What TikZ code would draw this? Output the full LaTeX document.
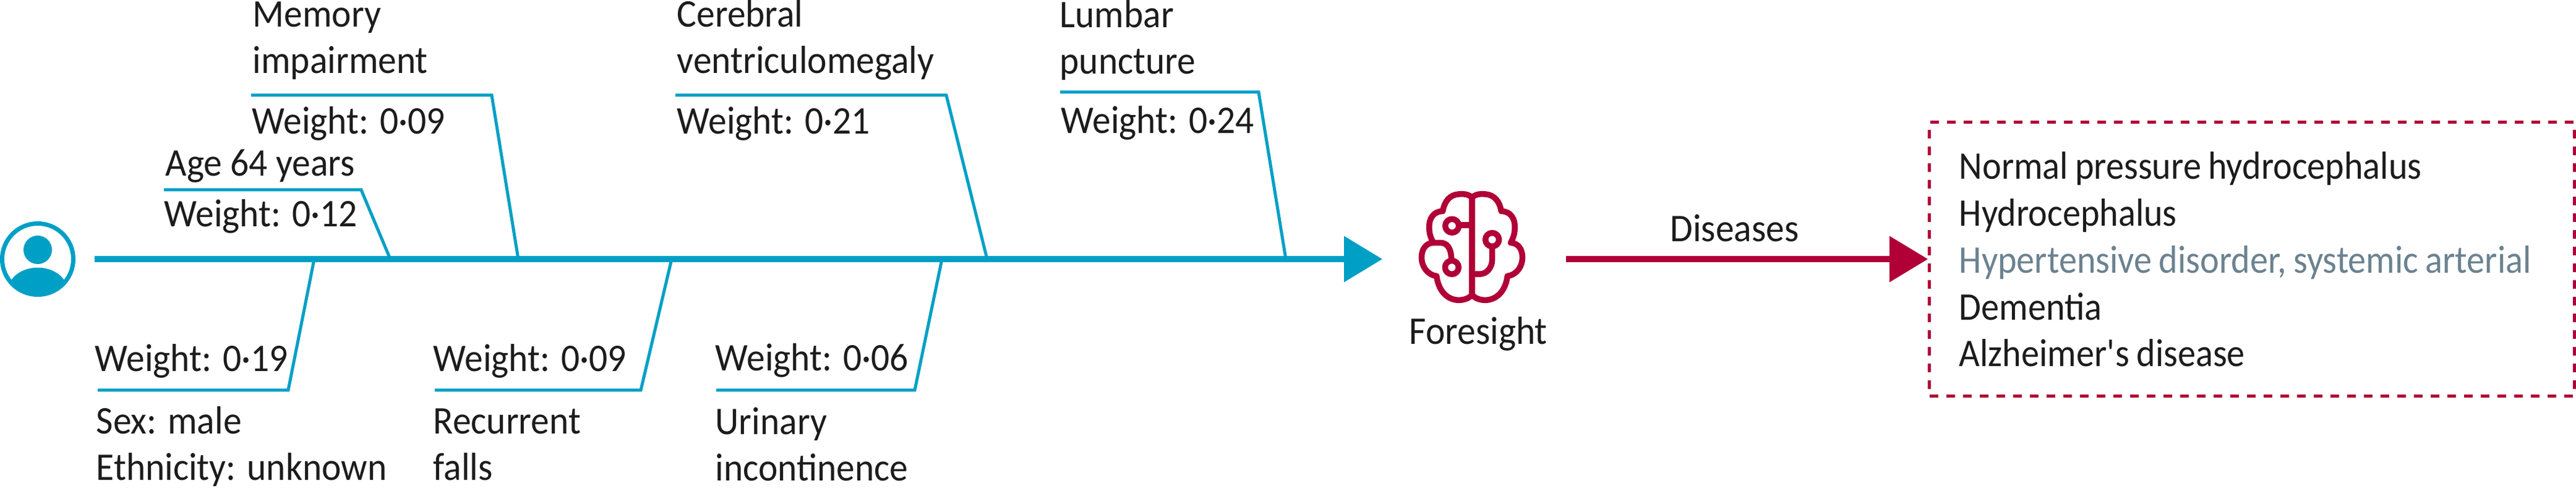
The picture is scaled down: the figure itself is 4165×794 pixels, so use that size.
\documentclass[tikz,border=0pt]{standalone}
\usepackage{fontspec}
\setmainfont[FakeStretch=0.94]{Carlito}
\newfontfamily\listfont[FakeStretch=0.92,WordSpace=0.85]{Carlito}
\usepackage{xcolor}
\usetikzlibrary{arrows.meta}
\definecolor{fishteal}{HTML}{00A0C6}
\definecolor{brainred}{HTML}{B00037}
\definecolor{inkblack}{HTML}{1C1C1C}
\definecolor{slategrey}{HTML}{6B8290}
\tikzset{
  txt/.style={anchor=base west, inner sep=0pt, align=left, text=inkblack,
    font=\fontsize{18pt}{21.4pt}\selectfont},
  listtxt/.style={txt, font=\listfont\fontsize{18pt}{21.6pt}\selectfont},
  branch/.style={draw=fishteal, line width=.05cm, line join=miter},
  spine/.style={draw=fishteal, line width=.1cm, -{Triangle[length=.62cm,width=.72cm]}},
  output/.style={draw=brainred, line width=.1cm, -{Triangle[length=.62cm,width=.72cm]}},
  brainline/.style={draw=brainred, line width=.095cm, line join=round, line cap=round},
}
\begin{document}
\begin{tikzpicture}[x=.01cm,y=.01cm]
\useasboundingbox (0,0) rectangle (4165,794);
\node [circle, draw=fishteal, line width=.07cm, minimum size=1.15cm, inner sep=0pt]
       (person) at (61,375) {};
\fill [fishteal] (61,390) circle (23);
\fill [fishteal] (104,341) .. controls (85,368) and (37,368) .. (18,341)
       arc [start angle=218, end angle=322, radius=55] -- cycle;
\node [minimum width=1.74cm, minimum height=1.81cm, inner sep=0pt]
       (brain) at (2380,396) {};
\draw [spine, shorten <=.31cm, shorten >=.57cm] (person.east) -- (person.east -| brain.west);

\node [txt] (memory) at (408,675) {Memory\\impairment};
\node [txt] (memoryweight) at (407,577) {Weight: 0·09};
\coordinate (memoryrule) at (406,640);
\coordinate (memorybend) at (795,640);
\coordinate (memoryjoin) at (838,375);
\draw [branch] (memoryrule) -- (memorybend) -- (memoryjoin);

\node [txt] (age) at (267,509) {Age 64 years};
\node [txt] (ageweight) at (265,427) {Weight: 0·12};
\coordinate (agerule) at (265,487);
\coordinate (agebend) at (584,487);
\coordinate (agejoin) at (631,375);
\draw [branch] (agerule) -- (agebend) -- (agejoin);

\node [txt] (cerebral) at (1094,675) {Cerebral\\ventriculomegaly};
\node [txt] (cerebralweight) at (1094,577) {Weight: 0·21};
\coordinate (cerebralrule) at (1092,640);
\coordinate (cerebralbend) at (1530,640);
\coordinate (cerebraljoin) at (1596,375);
\draw [branch] (cerebralrule) -- (cerebralbend) -- (cerebraljoin);

\node [txt] (lumbar) at (1713,674) {Lumbar\\puncture};
\node [txt] (lumbarweight) at (1715,578) {Weight: 0·24};
\coordinate (lumbarrule) at (1714,645);
\coordinate (lumbarbend) at (2035,645);
\coordinate (lumbarjoin) at (2079,375);
\draw [branch] (lumbarrule) -- (lumbarbend) -- (lumbarjoin);

\node [txt] (sex) at (155,17) {Sex: male\\Ethnicity: unknown};
\node [txt] (sexweight) at (153,193) {Weight: 0·19};
\coordinate (sexrule) at (158,163);
\coordinate (sexbend) at (466,163);
\coordinate (sexjoin) at (508,375);
\draw [branch] (sexrule) -- (sexbend) -- (sexjoin);

\node [txt] (falls) at (700,17) {Recurrent\\falls};
\node [txt] (fallsweight) at (700,193) {Weight: 0·09};
\coordinate (fallsrule) at (703,163);
\coordinate (fallsbend) at (1036,163);
\coordinate (fallsjoin) at (1086,375);
\draw [branch] (fallsrule) -- (fallsbend) -- (fallsjoin);

\node [txt] (urinary) at (1156,16) {Urinary\\incontinence};
\node [txt] (urinaryweight) at (1156,194) {Weight: 0·06};
\coordinate (urinaryrule) at (1158,163);
\coordinate (urinarybend) at (1479,163);
\coordinate (urinaryjoin) at (1523,375);
\draw [branch] (urinaryrule) -- (urinarybend) -- (urinaryjoin);

\begin{scope}[shift={(2380,494)},x=.003333cm,y=-.003333cm]
\foreach \side in {1,-1}
  \draw [brainline, xscale=\side] (0,58) .. controls (-20,40) and (-45,40) .. (-65,42)
       .. controls (-110,45) and (-135,80) .. (-142,125)
       .. controls (-190,125) and (-210,165) .. (-208,205)
       .. controls (-208,235) and (-200,255) .. (-188,278)
       .. controls (-225,280) and (-245,310) .. (-245,350)
       .. controls (-245,395) and (-215,435) .. (-172,440)
       .. controls (-165,500) and (-130,555) .. (-65,557)
       .. controls (-35,557) and (-10,545) .. (0,530);
\draw [brainline] (0,58) -- (0,530);
\draw [brainline] (-97,196) circle (33);
\draw [brainline] (-98,398) circle (33);
\draw [brainline] (98,263) circle (33);
\draw [brainline] (-64,192) -- (0,192);
\draw [brainline] (-188,278) -- (-155,278) .. controls (-120,278) and (-100,305) .. (-100,365);
\draw [brainline] (98,296) -- (98,360) .. controls (98,400) and (70,430) .. (40,430) -- (0,430);
\end{scope}
\node [txt] (foresight) at (2278,237) {Foresight};

\node [draw=brainred, line width=.05cm, dash pattern=on .14cm off .13cm,
       minimum width=10.42cm, minimum height=4.42cm, inner sep=0pt]
       (diseases) at (3641,375) {};
\node [listtxt] (diseaselist) at (3167,201) {Normal pressure hydrocephalus\\Hydrocephalus\\
       \textcolor{slategrey}{Hypertensive disorder, systemic arterial}\\Dementia\\
       Alzheimer\textquotesingle s disease};
\node [txt] (diseaseslabel) at (2700,403) {Diseases};
\draw [output, shorten <=.64cm] (diseases.west -| brain.east) -- (diseases.west);
\end{tikzpicture}
\end{document}
